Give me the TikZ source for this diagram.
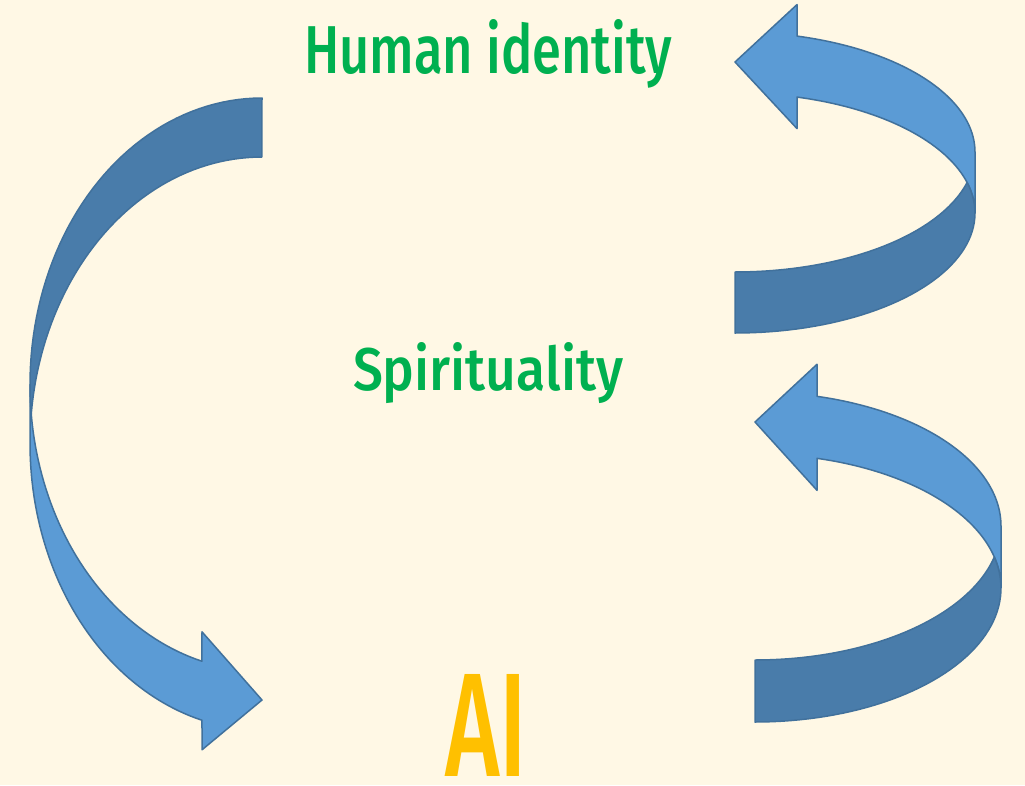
\documentclass[tikz,border=0pt]{standalone}
\usepackage{graphicx}
\usepackage{fontspec}
\newfontfamily\lblfont{Fira Sans Medium}
\definecolor{bgc}{HTML}{FFF8E5}
\definecolor{lightblue}{HTML}{5B9BD5}
\definecolor{darkblue}{HTML}{497CAA}
\definecolor{edgeblue}{HTML}{41719C}
\definecolor{txtgreen}{HTML}{00B050}
\definecolor{txtorange}{HTML}{FFC000}
\begin{document}
\begin{tikzpicture}[x=1pt,y=-1pt,
  front/.style={fill=lightblue,draw=edgeblue,line width=1.5pt,line join=round},
  back/.style={fill=darkblue,draw=edgeblue,line width=1.5pt,line join=round},
  lbl/.style={inner sep=0pt,outer sep=0pt,anchor=base west}]
\fill[bgc] (0,0) rectangle (1025,785);
\useasboundingbox (0,0) rectangle (1025,785);

% ---- left arrow (Human identity -> AI)
\path[front] plot[domain=0:1,samples=50] ({262+232*cos(180-75.01*\x)},{384.5+286.5*sin(180-75.01*\x)})
  -- (202,631.8) -- (262,700) -- (202,749.8)
  -- plot[domain=0:1,samples=50] ({262+232*cos(104.99+75.01*\x)},{443.5+286.5*sin(104.99+75.01*\x)})
  -- cycle;
\path[back] plot[domain=0:1,samples=50] ({262+232*cos(270-95.91*\x)},{384.5+286.5*sin(270-95.91*\x)})
  -- plot[domain=0:1,samples=50] ({262+232*cos(185.91+84.09*\x)},{443.5+286.5*sin(185.91+84.09*\x)})
  -- cycle;

% ---- right top arrow
\path[front] plot[domain=0:1,samples=50] ({735+240*cos(-75.03*\x)},{152+120*sin(-75.03*\x)})
  -- (797,4.6) -- (735,62) -- (797,128.6)
  -- plot[domain=0:1,samples=50] ({735+240*cos(-75.03+75.03*\x)},{213+120*sin(-75.03+75.03*\x)})
  -- cycle;
\path[back] plot[domain=0:1,samples=50] ({735+240*cos(90-104.72*\x)},{213+120*sin(90-104.72*\x)})
  -- plot[domain=0:1,samples=50] ({735+240*cos(14.72+75.28*\x)},{152+120*sin(14.72+75.28*\x)})
  -- cycle;

% ---- right bottom arrow
\path[front] plot[domain=0:1,samples=50] ({755+246*cos(-75.4*\x)},{526+134*sin(-75.4*\x)})
  -- (817,364.3) -- (755,422) -- (817,490.3)
  -- plot[domain=0:1,samples=50] ({755+246*cos(-75.4+75.4*\x)},{588+134*sin(-75.4+75.4*\x)})
  -- cycle;
\path[back] plot[domain=0:1,samples=50] ({755+246*cos(90-103.38*\x)},{588+134*sin(90-103.38*\x)})
  -- plot[domain=0:1,samples=50] ({755+246*cos(13.38+76.62*\x)},{526+134*sin(13.38+76.62*\x)})
  -- cycle;

% ---- labels
\node[lbl] (human) at (304,73) {\resizebox{368pt}{54pt}{\color{txtgreen}\lblfont Human identity}};
\node[lbl] (spirit) at (353,390) {\resizebox{270pt}{48pt}{\color{txtgreen}\lblfont Spirituality}};
\node[lbl] (ai) at (445,776) {\resizebox{82pt}{102pt}{\color{txtorange}\lblfont AI}};
\end{tikzpicture}
\end{document}
